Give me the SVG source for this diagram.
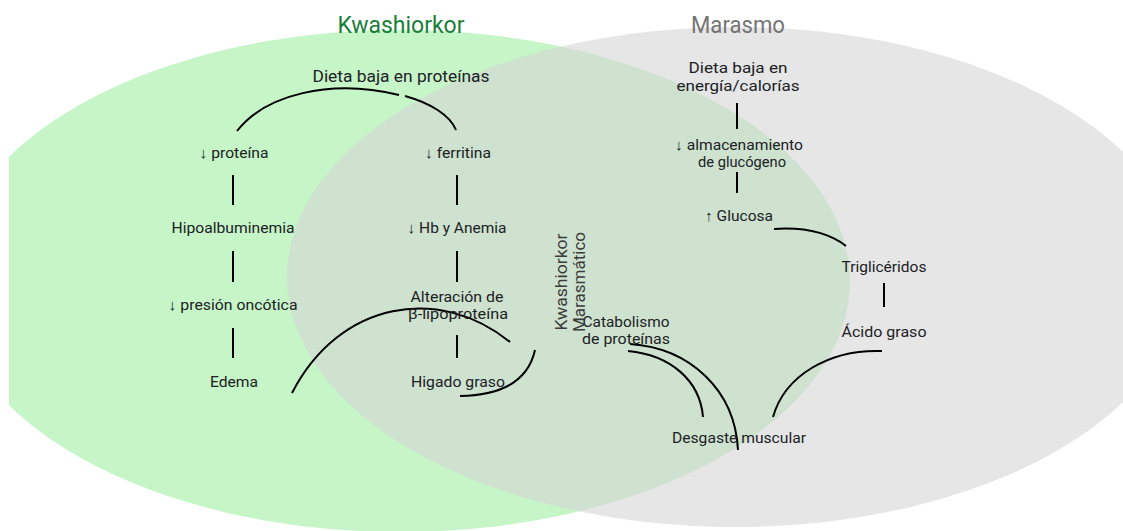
<svg xmlns="http://www.w3.org/2000/svg" width="1123" height="531" viewBox="0 0 1123 531">
  <defs>
    <clipPath id="clipLeft">
      <rect x="9" y="0" width="1114" height="531"/>
    </clipPath>
    <style>
      .node { font-family: Roboto, "Liberation Sans", "DejaVu Sans", sans-serif; font-size: 15px; fill: #202124; text-anchor: middle; }
      .arr { font-family: "Liberation Sans", "DejaVu Sans", sans-serif; }
      .title { font-family: Roboto, "Liberation Sans", sans-serif; font-size: 23px; text-anchor: middle; }
      .side { font-family: Roboto, "Liberation Sans", sans-serif; font-size: 17px; fill: #3c3c3c; text-anchor: middle; }
      .link { fill: none; stroke: #000; stroke-width: 2; stroke-linecap: butt; }
    </style>
  </defs>

  <rect width="1123" height="531" fill="#ffffff"/>

  <!-- Venn sets -->
  <g id="set-kwashiorkor">
    <ellipse cx="400" cy="281" rx="450" ry="251" fill="#c6f5c8" clip-path="url(#clipLeft)"/>
  </g>
  <g id="set-marasmo">
    <ellipse cx="735" cy="277" rx="448" ry="250" fill="#d4d4d4" fill-opacity="0.58"/>
  </g>

  <!-- Set titles -->
  <text id="title-kwashiorkor" class="title" x="401" y="33" fill="#188038" textLength="127" lengthAdjust="spacingAndGlyphs">Kwashiorkor</text>
  <text id="title-marasmo" class="title" x="738" y="33" fill="#757575" textLength="94" lengthAdjust="spacingAndGlyphs">Marasmo</text>

  <!-- Connectors -->
  <g id="connectors">
    <path class="link" d="M237,131 C265,95 330,78 399,95"/>
    <path class="link" d="M405,96 C430,103 450,115 456,130"/>
    <line class="link" x1="233" y1="175" x2="233" y2="205"/>
    <line class="link" x1="457" y1="175" x2="457" y2="205"/>
    <line class="link" x1="233" y1="251" x2="233" y2="282"/>
    <line class="link" x1="457" y1="251" x2="457" y2="282"/>
    <line class="link" x1="233" y1="328" x2="233" y2="358"/>
    <line class="link" x1="457" y1="335" x2="457" y2="358"/>
    <path class="link" d="M292,393 C340,300 440,285 510,342"/>
    <path class="link" d="M460,396 Q525,395 535,350"/>
    <line class="link" x1="737" y1="103" x2="737" y2="129"/>
    <line class="link" x1="737" y1="172" x2="737" y2="193"/>
    <path class="link" d="M774,229 Q820,226 846,246"/>
    <line class="link" x1="884" y1="283" x2="884" y2="307"/>
    <path class="link" d="M882,351 C830,349 785,375 773,417"/>
    <path class="link" d="M628,351 C670,355 700,380 703,417"/>
    <path class="link" d="M630,344 C690,348 735,390 738,450"/>
  </g>

  <!-- Kwashiorkor chain -->
  <g id="n-dieta-proteinas"><text class="node" x="401" y="82" style="font-size:16px" textLength="177" lengthAdjust="spacingAndGlyphs">Dieta baja en proteínas</text></g>
  <g id="n-proteina"><text class="node" x="234" y="158" textLength="69" lengthAdjust="spacingAndGlyphs"><tspan class="arr">↓</tspan> proteína</text></g>
  <g id="n-ferritina"><text class="node" x="458" y="158" textLength="66" lengthAdjust="spacingAndGlyphs"><tspan class="arr">↓</tspan> ferritina</text></g>
  <g id="n-hipoalbuminemia"><text class="node" x="233" y="233" textLength="123" lengthAdjust="spacingAndGlyphs">Hipoalbuminemia</text></g>
  <g id="n-hb-anemia"><text class="node" x="457" y="233" textLength="99" lengthAdjust="spacingAndGlyphs"><tspan class="arr">↓</tspan> Hb y Anemia</text></g>
  <g id="n-presion"><text class="node" x="233" y="310" textLength="129" lengthAdjust="spacingAndGlyphs"><tspan class="arr">↓</tspan> presión oncótica</text></g>
  <g id="n-lipoproteina">
    <text class="node" x="457" y="302" textLength="93" lengthAdjust="spacingAndGlyphs">Alteración de</text>
    <text class="node" x="458" y="319" textLength="100" lengthAdjust="spacingAndGlyphs">β-lipoproteína</text>
  </g>
  <g id="n-edema"><text class="node" x="234" y="387" textLength="48" lengthAdjust="spacingAndGlyphs">Edema</text></g>
  <g id="n-higado"><text class="node" x="458" y="387" textLength="94" lengthAdjust="spacingAndGlyphs">Higado graso</text></g>

  <!-- Marasmo chain -->
  <g id="n-dieta-energia">
    <text class="node" x="738" y="73" textLength="99" lengthAdjust="spacingAndGlyphs">Dieta baja en</text>
    <text class="node" x="738" y="91" textLength="123" lengthAdjust="spacingAndGlyphs">energía/calorías</text>
  </g>
  <g id="n-glucogeno">
    <text class="node" x="739" y="150" textLength="128" lengthAdjust="spacingAndGlyphs"><tspan class="arr">↓</tspan> almacenamiento</text>
    <text class="node" x="742" y="167" textLength="88" lengthAdjust="spacingAndGlyphs">de glucógeno</text>
  </g>
  <g id="n-glucosa"><text class="node" x="739" y="221" textLength="68" lengthAdjust="spacingAndGlyphs"><tspan class="arr">↑</tspan> Glucosa</text></g>
  <g id="n-trigliceridos"><text class="node" x="884" y="272" textLength="85" lengthAdjust="spacingAndGlyphs">Triglicéridos</text></g>
  <g id="n-acido"><text class="node" x="884" y="337" textLength="85" lengthAdjust="spacingAndGlyphs">Ácido graso</text></g>
  <g id="n-desgaste"><text class="node" x="739" y="443" textLength="134" lengthAdjust="spacingAndGlyphs">Desgaste muscular</text></g>

  <!-- Overlap -->
  <g id="n-catabolismo">
    <text class="node" x="626" y="327" textLength="87" lengthAdjust="spacingAndGlyphs">Catabolismo</text>
    <text class="node" x="626" y="344" textLength="88" lengthAdjust="spacingAndGlyphs">de proteínas</text>
  </g>
  <g id="label-overlap">
    <text class="side" transform="translate(567,282) rotate(-90)" x="0" y="0" textLength="97" lengthAdjust="spacingAndGlyphs">Kwashiorkor</text>
    <text class="side" transform="translate(585,282) rotate(-90)" x="0" y="0" textLength="100" lengthAdjust="spacingAndGlyphs">Marasmático</text>
  </g>
</svg>
